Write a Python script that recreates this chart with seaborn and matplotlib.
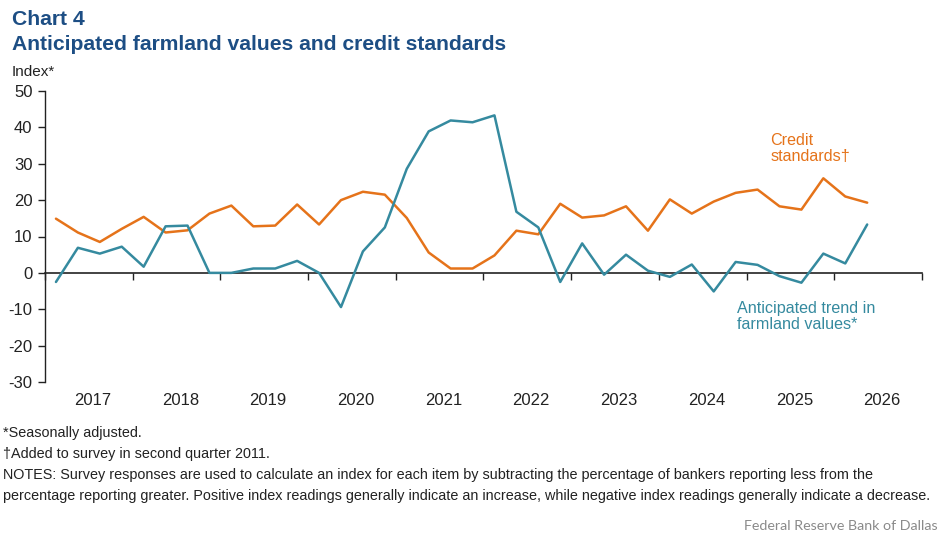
"""Chart 4: anticipated farmland values and credit standards."""

import matplotlib
matplotlib.use("Agg")
import matplotlib.pyplot as plt
import numpy as np
import pandas as pd
import seaborn as sns

QUARTERS = pd.period_range("2017Q1", "2026Q2", freq="Q")
CREDIT_STANDARDS = [14.9, 11.1, 8.5, 12.1, 15.4, 11.1, 11.7, 16.3, 18.5, 12.8,
                    13.0, 18.8, 13.3, 20.0, 22.3, 21.5, 15.1, 5.6, 1.2, 1.2,
                    4.8, 11.6, 10.6, 19.0, 15.2, 15.8, 18.3, 11.6, 20.2, 16.3,
                    19.6, 22.0, 22.9, 18.3, 17.4, 26.0, 21.0, 19.3]
FARMLAND_TREND = [-2.5, 6.9, 5.3, 7.2, 1.7, 12.8, 13.0, 0.0, 0.0, 1.2,
                  1.2, 3.3, 0.0, -9.4, 5.9, 12.5, 28.6, 38.9, 41.9, 41.4,
                  43.3, 16.8, 12.5, -2.5, 8.1, -0.5, 5.0, 0.6, -1.1, 2.3,
                  -5.1, 3.0, 2.2, -0.9, -2.7, 5.3, 2.6, 13.3]
YEARS = list(range(2017, 2027))
Y_TICKS = [50, 40, 30, 20, 10, 0, -10, -20, -30]

ORANGE = "#E5731A"
TEAL = "#358A9F"
NAVY = "#1D4E84"
INK = "#222222"

W, H = 948, 540


def px(x, y):
    return x / W, 1 - y / H


sns.set_theme(style="white")
plt.rcParams["font.family"] = ["Liberation Sans", "DejaVu Sans"]
plt.rcParams["axes.unicode_minus"] = False

pos = np.array([q.year + (q.quarter - 0.5) / 4 for q in QUARTERS])
df = pd.DataFrame({
    "pos": np.concatenate([pos, pos]),
    "value": CREDIT_STANDARDS + FARMLAND_TREND,
    "series": ["credit"] * len(pos) + ["farmland"] * len(pos),
})

fig = plt.figure(figsize=(W / 100, H / 100), dpi=100)
ax = fig.add_axes([45 / W, 1 - 382 / H, (922 - 45) / W, (382 - 91) / H])

sns.lineplot(data=df, x="pos", y="value", hue="series",
             palette={"credit": ORANGE, "farmland": TEAL},
             linewidth=1.8, legend=False, ax=ax)

ax.set_xlim(YEARS[0], YEARS[-1] + 1)
ax.set_ylim(-30, 50)
ax.set_yticks(Y_TICKS)
ax.tick_params(axis="y", direction="out", length=5, width=1, color=INK,
               labelsize=12, labelcolor=INK, pad=4, left=True)
ax.set_xticks([y + 0.545 for y in YEARS])
ax.set_xticklabels([str(y) for y in YEARS])
ax.tick_params(axis="x", length=0, labelsize=12, labelcolor=INK, pad=8)
ax.set_xlabel("")
ax.set_ylabel("")
for side in ["top", "right", "bottom"]:
    ax.spines[side].set_visible(False)
ax.spines["left"].set_color(INK)
ax.spines["left"].set_linewidth(1)
ax.grid(False)

# zero line with year-boundary ticks
zero = ax.secondary_xaxis(30 / 80)
zero.set_xticks(YEARS + [YEARS[-1] + 1])
zero.set_xticklabels([])
zero.tick_params(axis="x", direction="out", length=5, width=1, color=INK)
zero.spines["bottom"].set_color(INK)
zero.spines["bottom"].set_linewidth(1.2)

ax.text(2025.27, 38.4, "Credit\nstandards\u2020", color=ORANGE, fontsize=11.6,
        ha="left", va="top", linespacing=1.1)
ax.text(2024.89, -7.8, "Anticipated trend in\nfarmland values*", color=TEAL,
        fontsize=11.6, ha="left", va="top", linespacing=1.1)

fig.text(*px(12, 25), "Chart 4", color=NAVY, fontsize=15.2,
         fontweight="bold", va="baseline")
fig.text(*px(12, 50), "Anticipated farmland values and credit standards",
         color=NAVY, fontsize=15.2, fontweight="bold", va="baseline")
fig.text(*px(12, 76), "Index*", color=INK, fontsize=11, va="baseline")

notes = [
    "*Seasonally adjusted.",
    "\u2020Added to survey in second quarter 2011.",
    "NOTES: Survey responses are used to calculate an index for each item by "
    "subtracting the percentage of bankers reporting less from the",
    "percentage reporting greater. Positive index readings generally indicate "
    "an increase, while negative index readings generally indicate a decrease.",
]
for i, line in enumerate(notes):
    fig.text(*px(3, 437 + i * 21), line, color=INK, fontsize=10.35,
             va="baseline")
fig.text(*px(938, 530), "Federal Reserve Bank of Dallas", color="#8A8A8A",
         fontsize=10.3, family=["Lato", "DejaVu Sans"], ha="right",
         va="baseline")

fig.savefig("out.png", dpi=100)
